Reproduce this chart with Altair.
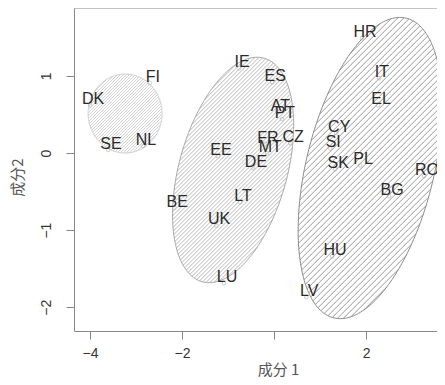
import altair as alt
import numpy as np
import pandas as pd

# ---- data ----
codes = ["DK", "FI", "SE", "NL", "IE", "ES", "AT", "PT", "EE", "FR", "MT", "CZ", "DE",
         "BE", "LT", "UK", "LU", "HR", "IT", "EL", "CY", "SI", "SK", "PL", "RO", "BG",
         "HU", "LV"]
pc1 = [-4.00, -2.70, -3.61, -2.85, -0.76, -0.04, 0.07, 0.17, -1.22, -0.20, -0.15, 0.35, -0.46,
       -2.17, -0.74, -1.26, -1.09, 1.91, 2.28, 2.26, 1.35, 1.22, 1.33, 1.87, 3.26, 2.50,
       1.26, 0.70]
pc2 = [0.62, 0.91, 0.04, 0.09, 1.10, 0.92, 0.53, 0.44, -0.04, 0.12, 0.00, 0.13, -0.19,
       -0.71, -0.64, -0.94, -1.69, 1.49, 0.97, 0.62, 0.26, 0.06, -0.21, -0.16, -0.30, -0.56,
       -1.34, -1.87]

# ellipses: centre and two conjugate semi-axis vectors (data units)
ell_cx = [-3.239, -0.891, 2.087]
ell_cy = [0.512, -0.220, -0.195]
ell_ux = [0.804, 0.672, 0.787]
ell_uy = [0.0, 1.450, 1.944]
ell_vx = [0.0, -1.132, -1.352]
ell_vy = [0.512, 0.187, 0.195]
ell_line = ["#cfcfcf", "#a8a8a8", "#8c8c8c"]
ell_hatch = ["#cdcdcd", "#b0b0b0", "#8f8f8f"]
ell_step = [3.0, 4.0, 6.0]

x_ticks = [-4, -2, 0, 2]
y_ticks = [-2, -1, 0, 1]

W, H = 363, 323
XDOM = [-4.35, -4.35 + W / 46.0]
YDOM = [-2.309, 1.881]

sx = W / (XDOM[1] - XDOM[0])
sy = H / (YDOM[1] - YDOM[0])

# ---- geometry derived from ellipse parameters ----
outline_frames = []
hatch_frames = []
for k in range(3):
    t = np.linspace(0, 2 * np.pi, 241)
    ox = ell_cx[k] + ell_ux[k] * np.cos(t) + ell_vx[k] * np.sin(t)
    oy = ell_cy[k] + ell_uy[k] * np.cos(t) + ell_vy[k] * np.sin(t)
    outline_frames.append(pd.DataFrame({"x": ox, "y": oy, "i": np.arange(len(t))}))

    k0 = sx * (ell_cx[k] - XDOM[0]) + sy * (YDOM[1] - ell_cy[k])
    ka = sx * ell_ux[k] - sy * ell_uy[k]
    kb = sx * ell_vx[k] - sy * ell_vy[k]
    R = np.hypot(ka, kb)
    phi = np.arctan2(kb, ka)
    cs = np.arange(-R + ell_step[k] / 2, R, ell_step[k])
    a = np.arccos(np.clip(cs / R, -1, 1))
    t1, t2 = phi + a, phi - a
    hatch_frames.append(pd.DataFrame({
        "x": ell_cx[k] + ell_ux[k] * np.cos(t1) + ell_vx[k] * np.sin(t1),
        "y": ell_cy[k] + ell_uy[k] * np.cos(t1) + ell_vy[k] * np.sin(t1),
        "x2": ell_cx[k] + ell_ux[k] * np.cos(t2) + ell_vx[k] * np.sin(t2),
        "y2": ell_cy[k] + ell_uy[k] * np.cos(t2) + ell_vy[k] * np.sin(t2),
    }))

pts = pd.DataFrame({"code": codes, "x": pc1, "y": pc2})

xs = alt.Scale(domain=XDOM, nice=False, zero=False)
ys = alt.Scale(domain=YDOM, nice=False, zero=False)

xaxis = alt.Axis(values=x_ticks, grid=False, tickSize=8, tickColor="#888", domainColor="#888",
                 labelExpr="datum.value == 0 ? '' : (datum.value < 0 ? '\u2212' + abs(datum.value) : '' + datum.value)",
                 labelFont="Liberation Sans", labelFontSize=14, labelColor="#333", labelPadding=7,
                 title="成分 1", titleFont="Noto Sans CJK SC", titleFontSize=15, titleFontWeight="normal",
                 titleColor="#555", titleX=204, titleY=38, titleBaseline="middle", titleAlign="center")
yaxis = alt.Axis(values=y_ticks, grid=False, tickSize=8, tickColor="#888", domainColor="#888",
                 labelAngle=270, labelAlign="center", labelBaseline="middle", labelPadding=20,
                 labelExpr="datum.value < 0 ? '\u2212' + abs(datum.value) : '' + datum.value",
                 labelFont="Liberation Sans", labelFontSize=14, labelColor="#333",
                 title="成分2", titleFont="Noto Sans CJK SC", titleFontSize=15, titleFontWeight="normal",
                 titleColor="#555", titleX=-57, titleY=169, titleAngle=270, titleBaseline="middle",
                 titleAlign="center")

X = lambda: alt.X("x:Q", scale=xs, axis=xaxis)
Y = lambda: alt.Y("y:Q", scale=ys, axis=yaxis)

layers = []
for k in range(3):
    layers.append(alt.Chart(hatch_frames[k]).mark_rule(color=ell_hatch[k], strokeWidth=0.9).encode(
        x=X(), y=Y(), x2="x2:Q", y2="y2:Q"))
    layers.append(alt.Chart(outline_frames[k]).mark_line(color=ell_line[k], strokeWidth=1).encode(
        x=X(), y=Y(), order="i:Q"))

layers.append(alt.Chart(pts).mark_point(shape="circle", size=14, filled=False, color="#aaa",
                                        strokeWidth=0.8).encode(x=X(), y=Y()))
layers.append(alt.Chart(pts).mark_text(font="Liberation Sans", fontSize=16, color="#2a2a2a",
                                       dx=3, dy=-6, align="center", baseline="middle").encode(
    x=X(), y=Y(), text="code:N"))
# top frame line
layers.append(alt.Chart(pts.head(1)).mark_rule(color="#888", strokeWidth=1).encode(
    x=alt.value(0), x2=alt.value(W + 10), y=alt.value(0)))

chart = alt.layer(*layers).properties(
    width=W, height=H,
    padding={"left": 66, "top": 0, "right": 0, "bottom": 46},
    autosize=alt.AutoSizeParams(type="none"),
    background="white",
).configure_view(stroke=None)

chart.save("out.html", embed_options={"renderer": "svg", "actions": False})
